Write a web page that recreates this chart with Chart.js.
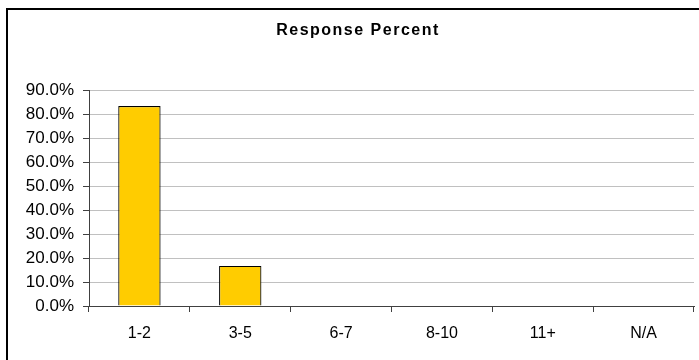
<!DOCTYPE html>
<html>
<head>
<meta charset="utf-8">
<title>Response Percent</title>
<script src="https://cdn.jsdelivr.net/npm/chart.js@4/dist/chart.umd.min.js"></script>
<style>
  html, body { margin: 0; padding: 0; background: #ffffff; }
  #wrap { width: 699px; height: 360px; position: relative; }
</style>
</head>
<body>
<div id="wrap"><canvas id="chart" width="699" height="360"></canvas></div>
<script>
// Answer buckets and the share of responses in each
const categories = ['1-2', '3-5', '6-7', '8-10', '11+', 'N/A'];
const responsePercent = [83.3, 16.7, 0, 0, 0, 0];
const chartTitle = 'Response Percent';
const yTickMax = 90;
const yTickStep = 10;

const FONT = '"Liberation Sans", Arial, Helvetica, sans-serif';
Chart.defaults.font.family = FONT;
Chart.defaults.font.size = 16;
Chart.defaults.color = '#000000';

// Outer frame and the spaced-out bold heading
const framePlugin = {
  id: 'frameAndHeading',
  beforeDraw(chart) {
    const ctx = chart.ctx;
    ctx.save();
    ctx.fillStyle = '#ffffff';
    ctx.fillRect(0, 0, chart.width, chart.height);
    ctx.restore();
  },
  afterDraw(chart) {
    const ctx = chart.ctx;
    ctx.save();
    ctx.strokeStyle = '#000000';
    ctx.lineWidth = 2;
    ctx.strokeRect(7, 9, chart.width + 20, chart.height + 20);
    ctx.font = 'bold 16px ' + FONT;
    ctx.fillStyle = '#000000';
    ctx.textAlign = 'center';
    ctx.textBaseline = 'middle';
    if ('letterSpacing' in ctx) ctx.letterSpacing = '1.5px';
    ctx.fillText(chartTitle, 358, 31);
    ctx.restore();
  }
};

new Chart(document.getElementById('chart'), {
  type: 'bar',
  data: {
    labels: categories,
    datasets: [{
      label: chartTitle,
      data: responsePercent,
      backgroundColor: '#FFCC00',
      borderColor: '#000000',
      borderWidth: 1.2,
      categoryPercentage: 1,
      barPercentage: 0.42
    }]
  },
  options: {
    responsive: false,
    animation: false,
    devicePixelRatio: 1,
    layout: { padding: { top: 90, right: 5, bottom: 0, left: 0 } },
    plugins: {
      legend: { display: false },
      title: { display: false },
      tooltip: { enabled: false }
    },
    scales: {
      x: {
        grid: {
          display: true,
          drawOnChartArea: false,
          drawTicks: true,
          tickLength: 6,
          tickColor: '#404040',
          offset: true
        },
        border: { display: true, color: '#404040', width: 1 },
        ticks: { padding: 12, font: { size: 16 }, color: '#000000', maxRotation: 0 },
        afterFit(scale) { scale.height = 54; }
      },
      y: {
        min: 0,
        max: yTickMax,
        grid: {
          color: '#c0c0c0',
          lineWidth: 1,
          drawTicks: true,
          tickLength: 6,
          tickColor: '#404040'
        },
        border: { display: true, color: '#404040', width: 1 },
        ticks: {
          stepSize: yTickStep,
          padding: 9,
          font: { size: 17 },
          color: '#000000',
          callback: (v) => Number(v).toFixed(1) + '%'
        },
        afterFit(scale) { scale.width = 89; }
      }
    }
  },
  plugins: [framePlugin]
});
</script>
</body>
</html>
